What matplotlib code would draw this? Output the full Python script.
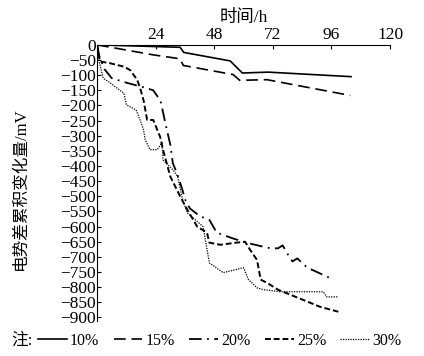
import numpy as np
import matplotlib.pyplot as plt
from matplotlib.lines import Line2D

plt.rcParams['font.family'] = ['Liberation Serif', 'Noto Sans CJK SC']
plt.rcParams['axes.unicode_minus'] = True

# time (h) and cumulative potential difference change (mV)
t_10 = [0, 34, 35.5, 54.5, 59.5, 70, 104]
v_10 = [0, -8, -25, -53, -93, -90, -105]

t_15 = [0, 23, 34, 35.3, 55.7, 58.4, 69.6, 103.7]
v_15 = [0, -33, -46, -68, -98, -117, -115, -167]

t_20 = [0, 1, 3, 6, 12, 19, 23, 26, 28, 30, 31, 33, 35, 36, 38, 42, 46, 49, 56, 61,
        70, 74, 76, 78, 80, 82, 86, 96]
v_20 = [0, -40, -80, -110, -125, -140, -150, -185, -260, -330, -390, -430, -480, -510,
        -540, -565, -578, -620, -640, -653, -670, -672, -662, -690, -715, -705, -735, -772]

t_25 = [0, 1.2, 5, 11, 13.5, 16.4, 17.6, 19, 20.5, 23, 24.6, 25.8, 27, 30, 34, 37,
        41, 45, 46, 50.5, 57, 60.6, 62.7, 65.5, 67, 69.7, 74, 84.4, 91.4, 98.8]
v_25 = [0, -55, -60, -72, -83, -115, -142, -182, -248, -248, -280, -303, -346, -435,
        -500, -545, -600, -620, -653, -660, -653, -650, -677, -710, -775, -786, -808,
        -842, -865, -881]

t_30 = [0, 0.4, 2.5, 5.3, 8, 11, 12, 16, 17.6, 19, 19.7, 21.7, 24.6, 26.6, 27, 31,
        33, 35, 37, 43.4, 46, 51.6, 60, 62, 65.5, 68, 75, 92.6, 94, 98.8]
v_30 = [0, -40, -110, -125, -142, -160, -198, -215, -248, -280, -313, -346, -346,
        -323, -380, -412, -435, -511, -555, -600, -720, -752, -736, -775, -802, -808,
        -815, -815, -832, -832]

labels = ['10%', '15%', '20%', '25%', '30%']
x_ticks = [24, 48, 72, 96, 120]
y_ticks = list(range(0, -901, -50))

fig = plt.figure(figsize=(4.24, 3.56), dpi=100)
ax = fig.add_axes([0.229, 0.098, 0.691, 0.776])

styles = [
    dict(linestyle='-', linewidth=1.2),
    dict(linestyle=(0, (7, 3.5)), linewidth=1.2),
    dict(linestyle=(0, (7, 3, 1, 3)), linewidth=1.3),
    dict(linestyle=(0, (3, 1.5)), linewidth=1.4),
    dict(linestyle=(0, (1, 1)), linewidth=0.9),
]
series = [(t_10, v_10), (t_15, v_15), (t_20, v_20), (t_25, v_25), (t_30, v_30)]
for (t, v), st, lab in zip(series, styles, labels):
    ax.plot(t, v, color='black', label=lab, **st)

ax.set_xlim(0, 120)
ax.set_ylim(-912, 0)
ax.xaxis.tick_top()
ax.xaxis.set_label_position('top')
ax.set_xticks(x_ticks)
ax.set_yticks(y_ticks)
ax.tick_params(direction='in', length=3, width=0.8, labelsize=12.5, pad=1)
ax.spines['right'].set_visible(False)
ax.spines['bottom'].set_visible(False)
ax.set_xlabel('时间/h', fontsize=12.5, labelpad=4)
ax.set_ylabel('电势差累积变化量/mV', fontsize=12)
ax.yaxis.set_label_coords(-0.235, 0.48)

fig.text(0.026, 0.043, '注:', fontsize=12, va='center')
handles = [Line2D([], [], color='black', **st) for st in styles]
fig.legend(handles, labels, loc='center left', bbox_to_anchor=(0.09, 0.043),
           ncol=5, frameon=False, fontsize=11.5, handlelength=1.8,
           handletextpad=0.2, columnspacing=0.9, borderpad=0, borderaxespad=0)

fig.savefig('out.png', dpi=100)
